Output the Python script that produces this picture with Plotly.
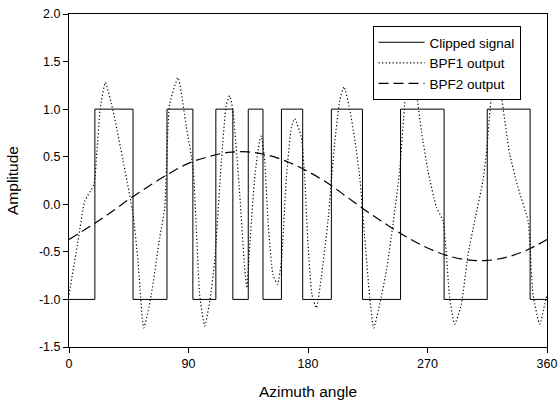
import plotly.graph_objects as go

# Clipped signal: transition angles (deg) and level before first transition
clip_edges = [0, 19.5, 48.2, 73.8, 93.3, 110.6, 123.4, 135.0, 146.1, 160.0, 176.0,
              197.6, 221.0, 249.7, 282.5, 315.0, 347.3, 360]
clip_levels = [-1, 1, -1, 1, -1, 1, -1, 1, -1, 1, -1, 1, -1, 1, -1, 1, -1, -1]

# BPF1 output
bpf1_angle = [0, 6.8, 11.8, 18.8, 21, 23.5, 27.4, 33.2, 40.7, 48.2, 52, 56.3, 62, 68.3, 72,
              75.8, 82.1, 88.4, 93.4, 95.9, 98.4, 102.2, 106, 109.7, 114.8, 118.5, 121,
              123.5, 128.6, 132.3, 134, 136, 140, 143.6, 144.9, 147.4, 149.9, 153.6, 157,
              160, 163.7, 167.5, 170, 175, 177.5, 180, 183, 186.3, 190, 195, 200, 203.9,
              207.1, 211.4, 215, 219, 222.7, 226.5, 229.5, 234, 239, 244, 249, 252.8, 254,
              257.8, 261.6, 265.4, 270.4, 276.7, 281.7, 284.2, 286.7, 290.5, 295.5, 300.5,
              305.5, 311.8, 314.3, 318.1, 319.3, 322.4, 325.6, 331.9, 338.2, 345.7, 349.5,
              354.5, 358.3, 360]
bpf1_value = [-0.95, -0.39, 0.03, 0.21, 0.55, 1.0, 1.28, 0.98, 0.46, -0.1, -0.6, -1.30, -0.95,
              -0.35, -0.05, 1.05, 1.33, 0.81, 0.39, -0.25, -0.95, -1.28, -1.02, -0.6, 0.46,
              1.05, 1.14, 0.98, 0.1, -0.67, -0.88, -0.46, 0.3, 0.67, 0.72, 0.46, -0.18, -0.74,
              -0.84, -0.6, 0.28, 0.81, 0.9, 0.70, 0.28, -0.42, -0.95, -1.09, -0.77, -0.18,
              0.63, 1.09, 1.235, 1.0, 0.70, 0.28, -0.35, -0.98, -1.30, -1.05, -0.70, -0.21,
              0.35, 1.05, 1.19, 1.4, 1.175, 0.77, 0.35, -0.03, -0.175, -0.53, -0.98, -1.26,
              -1.05, -0.53, -0.175, 0.25, 0.53, 1.12, 1.175, 1.38, 1.14, 0.53, 0.175, -0.175,
              -0.95, -1.26, -1.05, -0.95]

# BPF2 output
bpf2_angle = [0, 15, 30, 45, 60, 75, 90, 105, 120, 135, 150, 165, 180, 195, 210, 225, 240,
              255, 270, 285, 300, 315, 330, 345, 360]
bpf2_value = [-0.37, -0.24, -0.10, 0.05, 0.19, 0.32, 0.43, 0.50, 0.545, 0.55, 0.515, 0.445,
              0.345, 0.22, 0.07, -0.08, -0.22, -0.35, -0.46, -0.54, -0.585, -0.59, -0.555,
              -0.48, -0.37]

x_ticks = [0, 90, 180, 270, 360]
x_ticktext = ["0", "90", "180", "270", "360"]
y_ticks = [-1.5, -1.0, -0.5, 0.0, 0.5, 1.0, 1.5, 2.0]
y_ticktext = ["-1.5", "-1.0", "-0.5", "0.0", "0.5", "1.0", "1.5", "2.0"]

FONT = "Liberation Sans, Arial, sans-serif"

fig = go.Figure()
fig.add_trace(go.Scatter(x=clip_edges, y=clip_levels, mode="lines", name="Clipped signal",
                         line=dict(color="black", width=1, shape="hv")))
fig.add_trace(go.Scatter(x=bpf1_angle, y=bpf1_value, mode="lines", name="BPF1 output",
                         line=dict(color="black", width=1.2, dash="1.2px,2.3px", shape="spline",
                                   smoothing=0.5)))
fig.add_trace(go.Scatter(x=bpf2_angle, y=bpf2_value, mode="lines", name="BPF2 output",
                         line=dict(color="black", width=1.2, dash="10px,5px", shape="spline")))

fig.update_layout(
    width=558, height=402,
    margin=dict(l=69, r=11, t=14, b=55, autoexpand=False),
    paper_bgcolor="white", plot_bgcolor="white",
    font=dict(family=FONT, color="black", size=12.5),
    showlegend=True,
    legend=dict(x=0.635, y=0.964, xanchor="left", yanchor="top",
                bgcolor="white", bordercolor="black", borderwidth=1,
                font=dict(family=FONT, size=13.5, color="black"),
                itemwidth=46, tracegroupgap=0),
)
fig.update_xaxes(range=[0, 360], tickvals=x_ticks, ticktext=x_ticktext, automargin=False,
                 showgrid=False, zeroline=False, showline=True, linecolor="black",
                 linewidth=1, mirror=True, ticks="outside", ticklen=5, tickcolor="black",
                 title=dict(text="Azimuth angle", font=dict(size=15.5), standoff=16))
fig.update_yaxes(range=[-1.5, 2.0], tickvals=y_ticks, ticktext=y_ticktext, automargin=False,
                 showgrid=False, zeroline=False, showline=True, linecolor="black",
                 linewidth=1, mirror=True, ticks="outside", ticklen=5, tickcolor="black",
                 title=dict(text="Amplitude", font=dict(size=15.5), standoff=16))

fig.write_html("out.html")
